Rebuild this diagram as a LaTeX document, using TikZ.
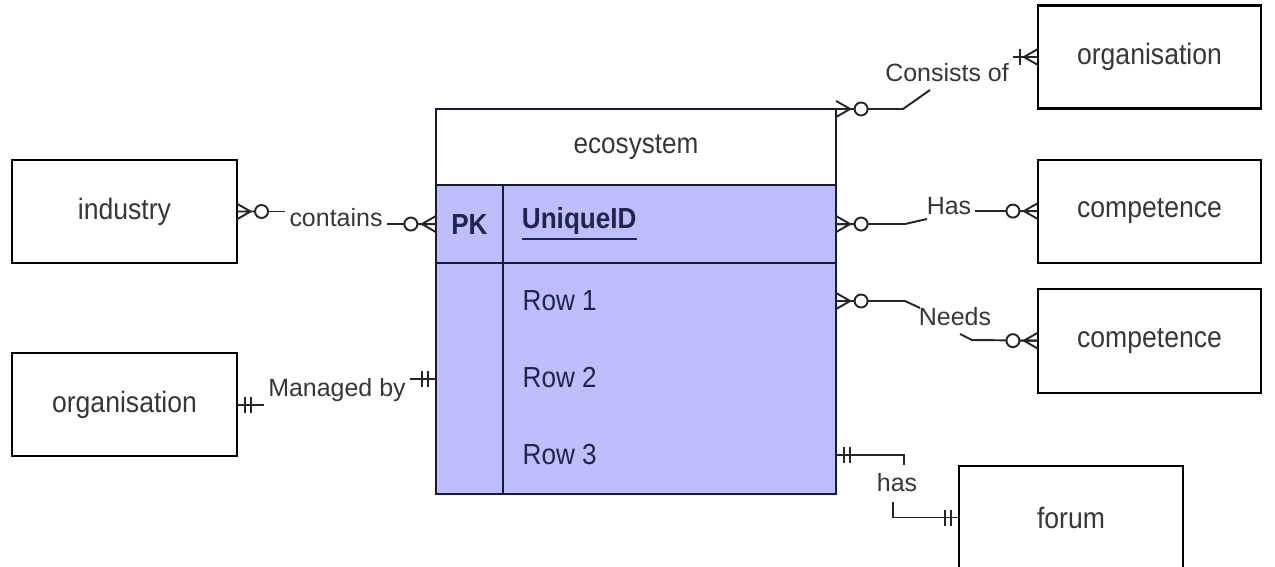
\documentclass[tikz,border=0pt]{standalone}
\usepackage{fontspec}
\setmainfont{Liberation Sans}
\newfontfamily\entfont{Liberation Sans}[FakeStretch=0.9]
\usepackage{xcolor}
\usepackage{tikz}
\usetikzlibrary{positioning}

\definecolor{erfill}{RGB}{190,190,252}
\definecolor{erline}{RGB}{25,25,60}
\definecolor{ertext}{RGB}{55,55,55}
\definecolor{ernavy}{RGB}{35,35,75}

\begin{document}
\begin{tikzpicture}[
    x=0.01cm, y=-0.01cm,
    entity/.style={rectangle, draw, line width=0.6pt, minimum width=2.24cm, minimum height=1.03cm, outer sep=0pt, text=ertext, font=\entfont\fontsize{8.4}{10}\selectfont},
    cell/.style={rectangle, draw=erline, line width=0.6pt, fill=erfill, outer sep=0pt, text=ernavy, font=\entfont\fontsize{8.25}{10}\selectfont},
    rowtext/.style={anchor=west, inner sep=0pt, text=ernavy, font=\entfont\fontsize{8.25}{10}\selectfont},
    lbl/.style={inner sep=1pt, text=ertext, font=\fontsize{7.1}{9}\selectfont},
    conn/.style={line width=0.55pt, draw=black!85},
    zeromany/.pic={
        \draw[conn] (0,-8) -- (14,0) -- (0,8) (0,0) -- (19,0);
        \draw[conn, fill=white] (25,0) circle [radius=6.5];
    },
    onemany/.pic={
        \draw[conn] (0,-8) -- (14,0) -- (0,8) (0,0) -- (22,0);
        \draw[conn] (18,-8) -- (18,8);
    },
    onlyone/.pic={
        \draw[conn] (0,0) -- (20,0) (8,-8) -- (8,8) (14,-8) -- (14,8);
    }
]
    \useasboundingbox (0,0) rectangle (1275,567);
    \clip (0,0) rectangle (1275,567);

    % Entities on the left
    \node[entity] (industry) at (124.5,211.5) {industry};
    \node[entity, below=0.9cm of industry] (orgL) {organisation};

    % Entities on the right
    \node[entity, minimum width=2.23cm] (orgR) at (1149.5,57) {organisation};
    \node[entity, minimum width=2.23cm, below=0.51cm of orgR] (compA) {competence};
    \node[entity, minimum width=2.23cm, minimum height=1.04cm, below=0.26cm of compA] (compB) {competence};
    \node[entity] (forum) at (1071,517.5) {forum};

    % ecosystem table
    \node[cell, fill=white, text=ertext, minimum width=4cm, minimum height=0.76cm] (eco) at (636,147) {ecosystem};
    \node[cell, anchor=north west, minimum width=0.67cm, minimum height=0.78cm] (pk) at (eco.south west) {\bfseries PK};
    \node[cell, right=0pt of pk, minimum height=0.78cm, text width=2.95cm, inner xsep=0.19cm, align=left] (uid) {\bfseries\underline{UniqueID}};
    \node[cell, below=0pt of pk, minimum width=0.67cm, minimum height=2.31cm] (keyrows) {};
    \node[cell, below=0pt of uid, minimum width=3.33cm, minimum height=2.31cm] (rows) {};
    \node[rowtext] (row1) at (522,301) {Row 1};
    \node[rowtext] (row2) at (522,378) {Row 2};
    \node[rowtext] (row3) at (522,455) {Row 3};

    % Relationship labels
    \node[lbl] (lcontains) at (336,218) {contains};
    \node[lbl] (lmanaged) at (337,390) {Managed by};
    \node[lbl] (lconsists) at (947,73) {Consists of};
    \node[lbl] (lhas) at (949,206) {Has};
    \node[lbl] (lneeds) at (955,317) {Needs};
    \node[lbl] (lhasforum) at (897,483) {has};

    % Bends of the connectors
    \coordinate (kcons) at (903,109);
    \coordinate (kconsend) at (930,90);
    \coordinate (khas) at (905,224);
    \coordinate (khasend) at (927,219);
    \coordinate (kneeds) at (905,301);
    \coordinate (kneedsend) at (920,308);
    \coordinate (kneedsback) at (960,334);
    \coordinate (kneedsbend) at (972,340);
    \coordinate (kforum) at (904,455);
    \coordinate (kforumend) at (904,465);
    \coordinate (kforumback) at (893,502);

    % Connectors
    \draw[conn] (industry.east) -- (lcontains.west |- industry.east);
    \draw[conn] (lcontains.east |- pk.west) -- (pk.west);
    \draw[conn] (orgL.east) -- (lmanaged.west |- orgL.east);
    \draw[conn] (lmanaged.east |- keyrows.west) -- (keyrows.west);
    \draw[conn] (eco.north east) -- (kcons) -- (kconsend);
    \draw[conn] (lconsists.east |- orgR.west) -- (orgR.west);
    \draw[conn] (uid.east) -- (khas) -- (khasend);
    \draw[conn] (lhas.east |- compA.west) -- (compA.west);
    \draw[conn] (rows.east |- row1) -- (kneeds) -- (kneedsend);
    \draw[conn] (kneedsback) -- (kneedsbend) -- (compB.west);
    \draw[conn] (rows.east |- row3) -- (kforum) -- (kforumend);
    \draw[conn] (kforumback) -- (kforumback |- forum.west) -- (forum.west);

    % Cardinality ends
    \pic at (industry.east) {zeromany};
    \pic[rotate=180] at (pk.west) {zeromany};
    \pic at (orgL.east) {onlyone};
    \pic[rotate=180] at (keyrows.west) {onlyone};
    \pic at (eco.north east) {zeromany};
    \pic[rotate=180] at (orgR.west) {onemany};
    \pic at (uid.east) {zeromany};
    \pic[rotate=180] at (compA.west) {zeromany};
    \pic at (rows.east |- row1) {zeromany};
    \pic[rotate=180] at (compB.west) {zeromany};
    \pic at (rows.east |- row3) {onlyone};
    \pic[rotate=180] at (forum.west) {onlyone};
\end{tikzpicture}
\end{document}
